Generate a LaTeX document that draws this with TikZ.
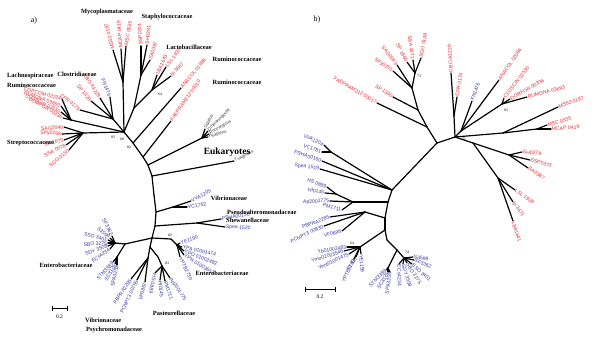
\documentclass[tikz,border=0pt]{standalone}
\usepackage{fontspec}
\setmainfont{Liberation Serif}
\newfontfamily\lsans{Liberation Sans}
\definecolor{lred}{RGB}{232,42,50}
\definecolor{lblue}{RGB}{58,58,168}
\definecolor{lgray}{RGB}{60,60,60}
\newcommand{\mkint}[3]{\coordinate (#2) at (#3); \draw[br] (#1) -- (#2);}
\newcommand{\mkleaf}[7]{\coordinate (#2) at (#3); \draw[br] (#1) -- (#2); \node[#6, rotate=#4, anchor=#5] (#2t) at (#2) {#7};}
\tikzset{
  br/.style={line width=1.2pt, line cap=round, black},
  lr/.style={font=\lsans\fontsize{5.1}{5.1}\selectfont, text=lred, inner sep=0.7pt},
  lb/.style={font=\lsans\fontsize{5.1}{5.1}\selectfont, text=lblue, inner sep=0.7pt},
  lg/.style={font=\lsans\fontsize{4.4}{4.4}\selectfont, text=lgray, inner sep=0.6pt},
  fam/.style={font=\bfseries\fontsize{6.4}{6.4}\selectfont, inner sep=0pt},
  num/.style={font=\fontsize{3.8}{3.8}\selectfont, inner sep=0pt},
  panel/.style={font=\fontsize{8}{8}\selectfont, inner sep=0pt},
  sbar/.style={line width=0.8pt, black},
}
\begin{document}
\begin{tikzpicture}[x=1pt,y=-1pt]
\useasboundingbox (0,0) rectangle (600,342);
\fill[white] (0,0) rectangle (600,342);

% ================= panel a =================
\node[panel] (pa) at (34,21) {a)};
\coordinate (aC) at (124,132);
% Mycoplasmataceae
\mkint{aC}{aM}{123,82}
\mkleaf{aM}{aM1}{113,50}{105}{west}{lr}{MS53 0197}
\mkleaf{aM}{aM2}{121,49}{95}{west}{lr}{MCAP 0419}
\mkleaf{aM}{aM3}{126,46}{80}{west}{lr}{MSC 0555}
% Staphylococcaceae / Lactobacillaceae
\mkint{aC}{aSL}{134,108}
\mkint{aSL}{aS}{141,75}
\mkleaf{aS}{aS1}{141,46}{94}{west}{lr}{SSP0374}
\mkleaf{aS}{aS2}{147,45}{84}{west}{lr}{SH0281}
\mkleaf{aS}{aS3}{150,60}{72}{west}{lr}{SA0387}
\mkint{aSL}{aL}{152,90}
\mkleaf{aL}{aL1}{157,75}{66}{west}{lr}{LBA1643}
\mkleaf{aL}{aL2}{166,67}{52}{west}{lr}{LSL 1937}
\mkleaf{aL}{aL3}{171,76}{46}{west}{lr}{lp 3667}
\node[num] (n64a) at (160,94) {64};
% backbone
\mkint{aC}{aK1}{133,143}
\mkint{aK1}{aK2}{143,157}
\mkint{aK2}{aK2b}{148,165}
\mkint{aK2b}{aK3}{152,176}
\mkint{aK3}{aK4}{154,195}
\mkint{aK4}{aK5}{156,212}
\mkint{aK5}{aK6}{155,226}
\mkint{aK6}{aK7}{152,238}
\mkint{aK7}{aK8}{150,247}
% Ruminococcaceae
\mkleaf{aK1}{aR1}{181,88}{50}{west}{lr}{ANACOL 01986}
\mkleaf{aK2}{aR2}{171,121}{55}{west}{lr}{FAEPRAM212 00010}
% Eukaryotes
\mkint{aK2b}{aE}{202,138}
\mkleaf{aE}{aE1}{205,129}{62}{west}{lg}{Ggallus}
\mkleaf{aE}{aE2}{208,131}{45}{west}{lg}{Dmelanogaster}
\mkleaf{aE}{aE3}{209,134}{30}{west}{lg}{Rnorvegicus}
\mkleaf{aE}{aE4}{208,137}{15}{west}{lg}{Hsapiens}
\mkleaf{aK3}{aTv}{234,161}{25}{west}{lg}{T.vaginalis}
% Vibrionaceae (upper)
\mkint{aK5}{aV}{173,207}
\mkleaf{aV}{aV1}{191,201}{28}{west}{lb}{VVA1205}
\mkleaf{aV}{aV2}{187,207}{8}{west}{lb}{VC1762}
% Shewanellaceae
\mkint{aK6}{aSh}{197,223}
\mkleaf{aSh}{aSh1}{221,219}{10}{west}{lb}{PSHA00150}
\mkleaf{aSh}{aSh2}{225,227}{-4}{west}{lb}{Spea 1520}
% Enterobacteriaceae (right)
\mkint{aK7}{aY0}{171,239}
\mkint{aY0}{aY}{177,245}
\fill (aY) circle (1.4);
\mkleaf{aY}{aY1}{180,243}{18}{west}{lb}{YE1190}
\mkleaf{aY}{aY2}{182,247}{-12}{west}{lb}{YPA 01001474}
\mkleaf{aY}{aY3}{184,251}{-22}{west}{lb}{YPO 01002482}
\mkleaf{aY}{aY4}{184,255}{-32}{west}{lb}{YPN 01003657}
\mkleaf{aY}{aY5}{180,257}{-64}{west}{lb}{YPTB2730}
\node[num] (n82b) at (170,235) {82};
% Pasteurellaceae
\mkint{aK8}{aP1}{158,257}
\mkint{aP1}{aP}{162,266}
\mkleaf{aP}{aP1l}{155,273}{-102}{west}{lb}{HS 0889}
\mkleaf{aP}{aP2l}{160,280}{-85}{west}{lb}{HI0145}
\mkleaf{aP}{aP3l}{165,281}{-70}{west}{lb}{PM1711}
\mkleaf{aP}{aP4l}{170,278}{-56}{west}{lb}{Ap2001775}
\node[num] (n83b) at (167,263) {83};
% Vibrionaceae / Psychromonadaceae (lower)
\mkint{aK8}{aPB}{148,258}
\mkleaf{aPB}{aPB1}{131,279}{56}{east}{lb}{PBPRA2285}
\mkleaf{aPB}{aPB2}{137,280}{65}{east}{lb}{PCNPT3 00755}
\mkleaf{aPB}{aPB3}{145,282}{76}{east}{lb}{VP0867}
% Enterobacteriaceae (left)
\mkint{aK7}{aEl1}{125,244}
\mkint{aEl1}{aEl}{115,243}
\fill (aEl) circle (1.4);
\mkleaf{aEl}{aEl2}{112,236}{-64}{east}{lb}{SF3362}
\mkleaf{aEl}{aEl3}{110,238}{-40}{east}{lb}{S3599}
\mkleaf{aEl}{aEl4}{108,240}{-14}{east}{lb}{SSO 3401}
\mkleaf{aEl}{aEl5}{108,243}{4}{east}{lb}{SBO 3275}
\mkleaf{aEl}{aEl6}{108,246}{20}{east}{lb}{SDY 3508}
\mkleaf{aEl}{aEl7}{110,249}{35}{east}{lb}{ECs4234}
\mkint{aEl1}{aEs}{117,257}
\mkleaf{aEs}{aEs1}{113,262}{48}{east}{lb}{STM3389}
\mkleaf{aEs}{aEs2}{115,264}{62}{east}{lb}{SC3325}
\mkleaf{aEs}{aEs3}{117,265}{78}{east}{lb}{SPA3255}
% Lachnospiraceae
\mkint{aC}{aLa}{71,120}
\mkleaf{aLa}{aLa1}{62,99}{-15}{east}{lr}{COPCOM 02234}
\mkleaf{aLa}{aLa2}{61,106}{-20}{east}{lr}{RUMGNA 03693}
\mkleaf{aLa}{aLa3}{61,112}{-25}{east}{lr}{CLOSCIR 02530}
\mkleaf{aLa}{aLa4}{63,118}{-30}{east}{lr}{DORFOR 00336}
% Clostridiaceae
\mkint{aC}{aCl}{113,119}
\mkleaf{aCl}{aCl1}{80,110}{-38}{east}{lr}{CPR 0175}
\mkleaf{aCl}{aCl2}{91,101}{-50}{east}{lr}{SP 1329}
\mkleaf{aCl}{aCl3}{100,98}{-57}{east}{lr}{CBO A1229}
\mkleaf{aCl}{aCl4}{110,97}{-68}{east}{lb}{FN1476}
% Streptococcaceae
\mkint{aC}{aSt}{83,133}
\mkleaf{aSt}{aSt1}{64,127}{5}{east}{lr}{SAG0040}
\mkleaf{aSt}{aSt2}{62,134}{-2}{east}{lr}{SPy0258}
\mkleaf{aSt}{aSt3}{64,140}{14}{east}{lr}{SP 1675}
\mkleaf{aSt}{aSt4}{66,145}{26}{east}{lr}{SSA 0078}
\mkleaf{aSt}{aSt5}{69,150}{40}{east}{lr}{SGO 0150}
% bootstrap numbers
\node[num] (n83a) at (113,137) {83};
\node[num] (n68a) at (122,139) {68};
\node[num] (n82a) at (129,147) {82};
% family labels
\node[fam] (fMy) at (107,12) {Mycoplasmataceae};
\node[fam] (fSt) at (167,17) {Staphylococcaceae};
\node[fam] (fLa) at (189,47) {Lactobacillaceae};
\node[fam] (fRu1) at (237,59) {Ruminococcaceae};
\node[fam] (fRu2) at (237,82) {Ruminococcaceae};
\node[fam, anchor=west] (fLc) at (7,76) {Lachnospiraceae};
\node[fam, anchor=west] (fRu3) at (7,85) {Ruminococcaceae};
\node[fam] (fCl) at (77,74) {Clostridiaceae};
\node[fam, anchor=west] (fSc) at (7,143) {Streptococcaceae};
\node[font=\bfseries\fontsize{9.5}{9.5}\selectfont, inner sep=0pt] (fEu) at (227,152) {Eukaryotes};
\node[fam] (fVi1) at (229,198) {Vibrionaceae};
\node[fam, anchor=west] (fPs) at (227,212) {Pseudoalteromonadaceae};
\node[fam, anchor=west] (fSh) at (226,220) {Shewanellaceae};
\node[fam] (fEn1) at (222,273) {Enterobacteriaceae};
\node[fam] (fPa) at (174,313) {Pasteurellaceae};
\node[fam] (fEn2) at (66,265) {Enterobacteriaceae};
\node[fam, anchor=west] (fVi2) at (85,320) {Vibrionaceae};
\node[fam, anchor=west] (fPy) at (86,330) {Psychromonadaceae};
% scale bar a
\coordinate (sa1) at (52,308);
\coordinate (sa2) at (67,308);
\draw[sbar] (sa1) -- (sa2);
\draw[sbar] ([yshift=-2.5pt]sa1) -- ([yshift=2.5pt]sa1);
\draw[sbar] ([yshift=-2.5pt]sa2) -- ([yshift=2.5pt]sa2);
\node[font=\fontsize{5.5}{5.5}\selectfont, inner sep=0pt] (sal) at (59.5,317) {0.2};

% ================= panel b =================
\node[panel] (pb) at (317,20) {b)};
\coordinate (bH) at (437,143);
\mkint{bH}{bT1}{427,127}
\mkint{bT1}{bT2}{418,110}
\mkint{bT2}{bN1}{412,88}
\mkleaf{bT1}{bFa}{377,103}{-30}{east}{lr}{FAEPRAM212 00017}
\mkleaf{bT2}{bSp}{393,97}{-33}{east}{lr}{SP 1330}
\mkleaf{bN1}{bSpy}{393,71}{-32}{east}{lr}{SPy0251}
\mkleaf{bN1}{bSag}{397,65}{-52}{east}{lr}{SAG0043}
\mkint{bN1}{bN2}{415,73}
\mkleaf{bN2}{bSp2}{407,62}{-62}{east}{lr}{SP 1665}
\mkleaf{bN2}{bSsa}{413,60}{-82}{east}{lr}{SSA 0071}
\mkleaf{bN2}{bSgo}{421,58}{80}{west}{lr}{SGO 0148}
\node[num] (n73) at (419,76) {73};
% hub right
\mkint{bH}{bH2}{455,137}
\mkint{bH2}{bCl}{454,116}
\mkleaf{bCl}{bCbo}{451,73}{93}{west}{lr}{CBO A1229}
\mkleaf{bCl}{bCpr}{457,97}{80}{west}{lr}{CPR 0174}
\mkint{bH2}{bH3}{461,131}
\mkleaf{bH3}{bFn}{472,101}{70}{west}{lb}{FN1476}
\mkleaf{bH3}{bAna}{499,80}{55}{west}{lr}{ANACOL 02066}
\mkint{bH3}{bLa}{502,104}
\mkleaf{bLa}{bLa1}{504,98}{52}{west}{lr}{CLOSCIN 02530}
\mkleaf{bLa}{bLa2}{510,99}{29}{west}{lr}{DORFOR 00336}
\mkleaf{bLa}{bLa3}{527,97}{14}{west}{lr}{RUMGNA 03693}
\node[num] (n83c) at (506,110) {83};
\mkint{bH2}{bMy}{503,133}
\mkleaf{bMy}{bMy1}{558,107}{20}{west}{lr}{MS53 0197}
\mkint{bMy}{bMy2}{537,129}
\mkleaf{bMy2}{bMy3}{547,125}{15}{west}{lr}{MSC 0555}
\mkleaf{bMy2}{bMy4}{551,129}{4}{west}{lr}{MCAP 0419}
\node[num] (n71) at (464,139) {71};
% Staph / Lacto
\mkint{bH2}{bSL}{473,143}
\mkint{bSL}{bS}{509,155}
\mkleaf{bS}{bS1}{522,152}{-5}{west}{lr}{SH0279}
\mkleaf{bS}{bS2}{530,160}{-15}{west}{lr}{SSP0373}
\mkleaf{bS}{bS3}{528,168}{-32}{west}{lr}{SA0387}
\mkint{bSL}{bL}{498,178}
\mkleaf{bL}{bL1}{515,190}{-35}{west}{lr}{LSL 1939}
\mkleaf{bL}{bL2}{513,202}{-55}{west}{lr}{lp 3671}
\mkleaf{bL}{bL3}{513,221}{-72}{west}{lr}{LBA1641}
% lower trunk
\mkint{bH}{bV}{392,190}
\mkint{bV}{bP}{388,202}
\mkint{bP}{bQ}{385,218}
\mkint{bQ}{bR}{385,230}
\mkint{bR}{bR2}{387,240}
\mkint{bR2}{bE}{397,250}
% Vibrio / Shewanella
\mkint{bV}{bVV}{331,152}
\mkleaf{bVV}{bV1}{324,145}{-25}{east}{lb}{VVA1204}
\mkleaf{bVV}{bV2}{322,152}{-18}{east}{lb}{VC1781}
\mkleaf{bV}{bV3}{322,161}{-18}{east}{lb}{PSHA00150}
\mkleaf{bV}{bV4}{320,169}{-8}{east}{lb}{Spea 1519}
% Pasteurella
\mkint{bP}{bPa}{353,202}
\mkint{bPa}{bPa2}{336,194}
\mkleaf{bPa2}{bPa3}{327,187}{-20}{east}{lb}{HS 0889}
\mkleaf{bPa2}{bPa4}{325,193}{-12}{east}{lb}{HI0145}
\mkleaf{bPa}{bPa5}{330,201}{3}{east}{lb}{Ap2001775}
\mkleaf{bPa}{bPa6}{342,210}{-15}{east}{lb}{PM1711}
% PBPRA
\mkint{bQ}{bPB}{365,212}
\mkleaf{bPB}{bPB1}{330,217}{20}{east}{lb}{PBPRA2285}
\mkleaf{bPB}{bPB2}{324,226}{25}{east}{lb}{PCNPT3 00830}
\mkleaf{bPB}{bPB3}{342,231}{15}{east}{lb}{VF0696}
% Yersinia
\mkint{bR}{bY}{360,247}
\node[num] (n64b) at (352,243) {64};
\mkleaf{bY}{bY1}{347,247}{10}{east}{lb}{Yb01002483}
\mkleaf{bY}{bY2}{344,251}{17}{east}{lb}{Ymo01003546}
\mkleaf{bY}{bY3}{349,254}{25}{east}{lb}{Yent01001475}
\mkleaf{bY}{bY4}{356,257}{58}{east}{lb}{Y1430}
\mkleaf{bY}{bY5}{354,259}{65}{east}{lb}{YPTB2730}
\mkleaf{bY}{bY6}{361,254}{-85}{west}{lb}{YE1159}
% Enterobacteria
\mkint{bE}{bEs}{388,268}
\mkleaf{bEs}{bEs1}{386,270}{45}{east}{lb}{STM3389}
\mkleaf{bEs}{bEs2}{388,272}{60}{east}{lb}{SC3325}
\mkleaf{bEs}{bEs3}{390,272}{82}{east}{lb}{SPA3255}
\mkint{bE}{bE2}{404,258}
\fill (bE2) circle (1.2);
\mkleaf{bE2}{bEn1}{399,264}{-88}{west}{lb}{ECs4234}
\mkleaf{bE2}{bEn2}{403,264}{-72}{west}{lb}{SDY 3508}
\mkleaf{bE2}{bEn3}{407,263}{-57}{west}{lb}{SBO 3275}
\mkleaf{bE2}{bEn4}{412,264}{-42}{west}{lb}{SSO 3401}
\mkleaf{bE2}{bEn5}{414,260}{-22}{west}{lb}{SF3362}
\mkleaf{bE2}{bEn6}{413,257}{-8}{west}{lb}{S3599}
\node[num] (n74) at (407,252) {74};
% scale bar b
\coordinate (sb1) at (305,289);
\coordinate (sb2) at (335,289);
\draw[sbar] (sb1) -- (sb2);
\draw[sbar] ([yshift=-2.5pt]sb1) -- ([yshift=2.5pt]sb1);
\draw[sbar] ([yshift=-2.5pt]sb2) -- ([yshift=2.5pt]sb2);
\node[font=\fontsize{5.5}{5.5}\selectfont, inner sep=0pt] (sbl) at (320,297) {0.2};
\end{tikzpicture}
\end{document}
